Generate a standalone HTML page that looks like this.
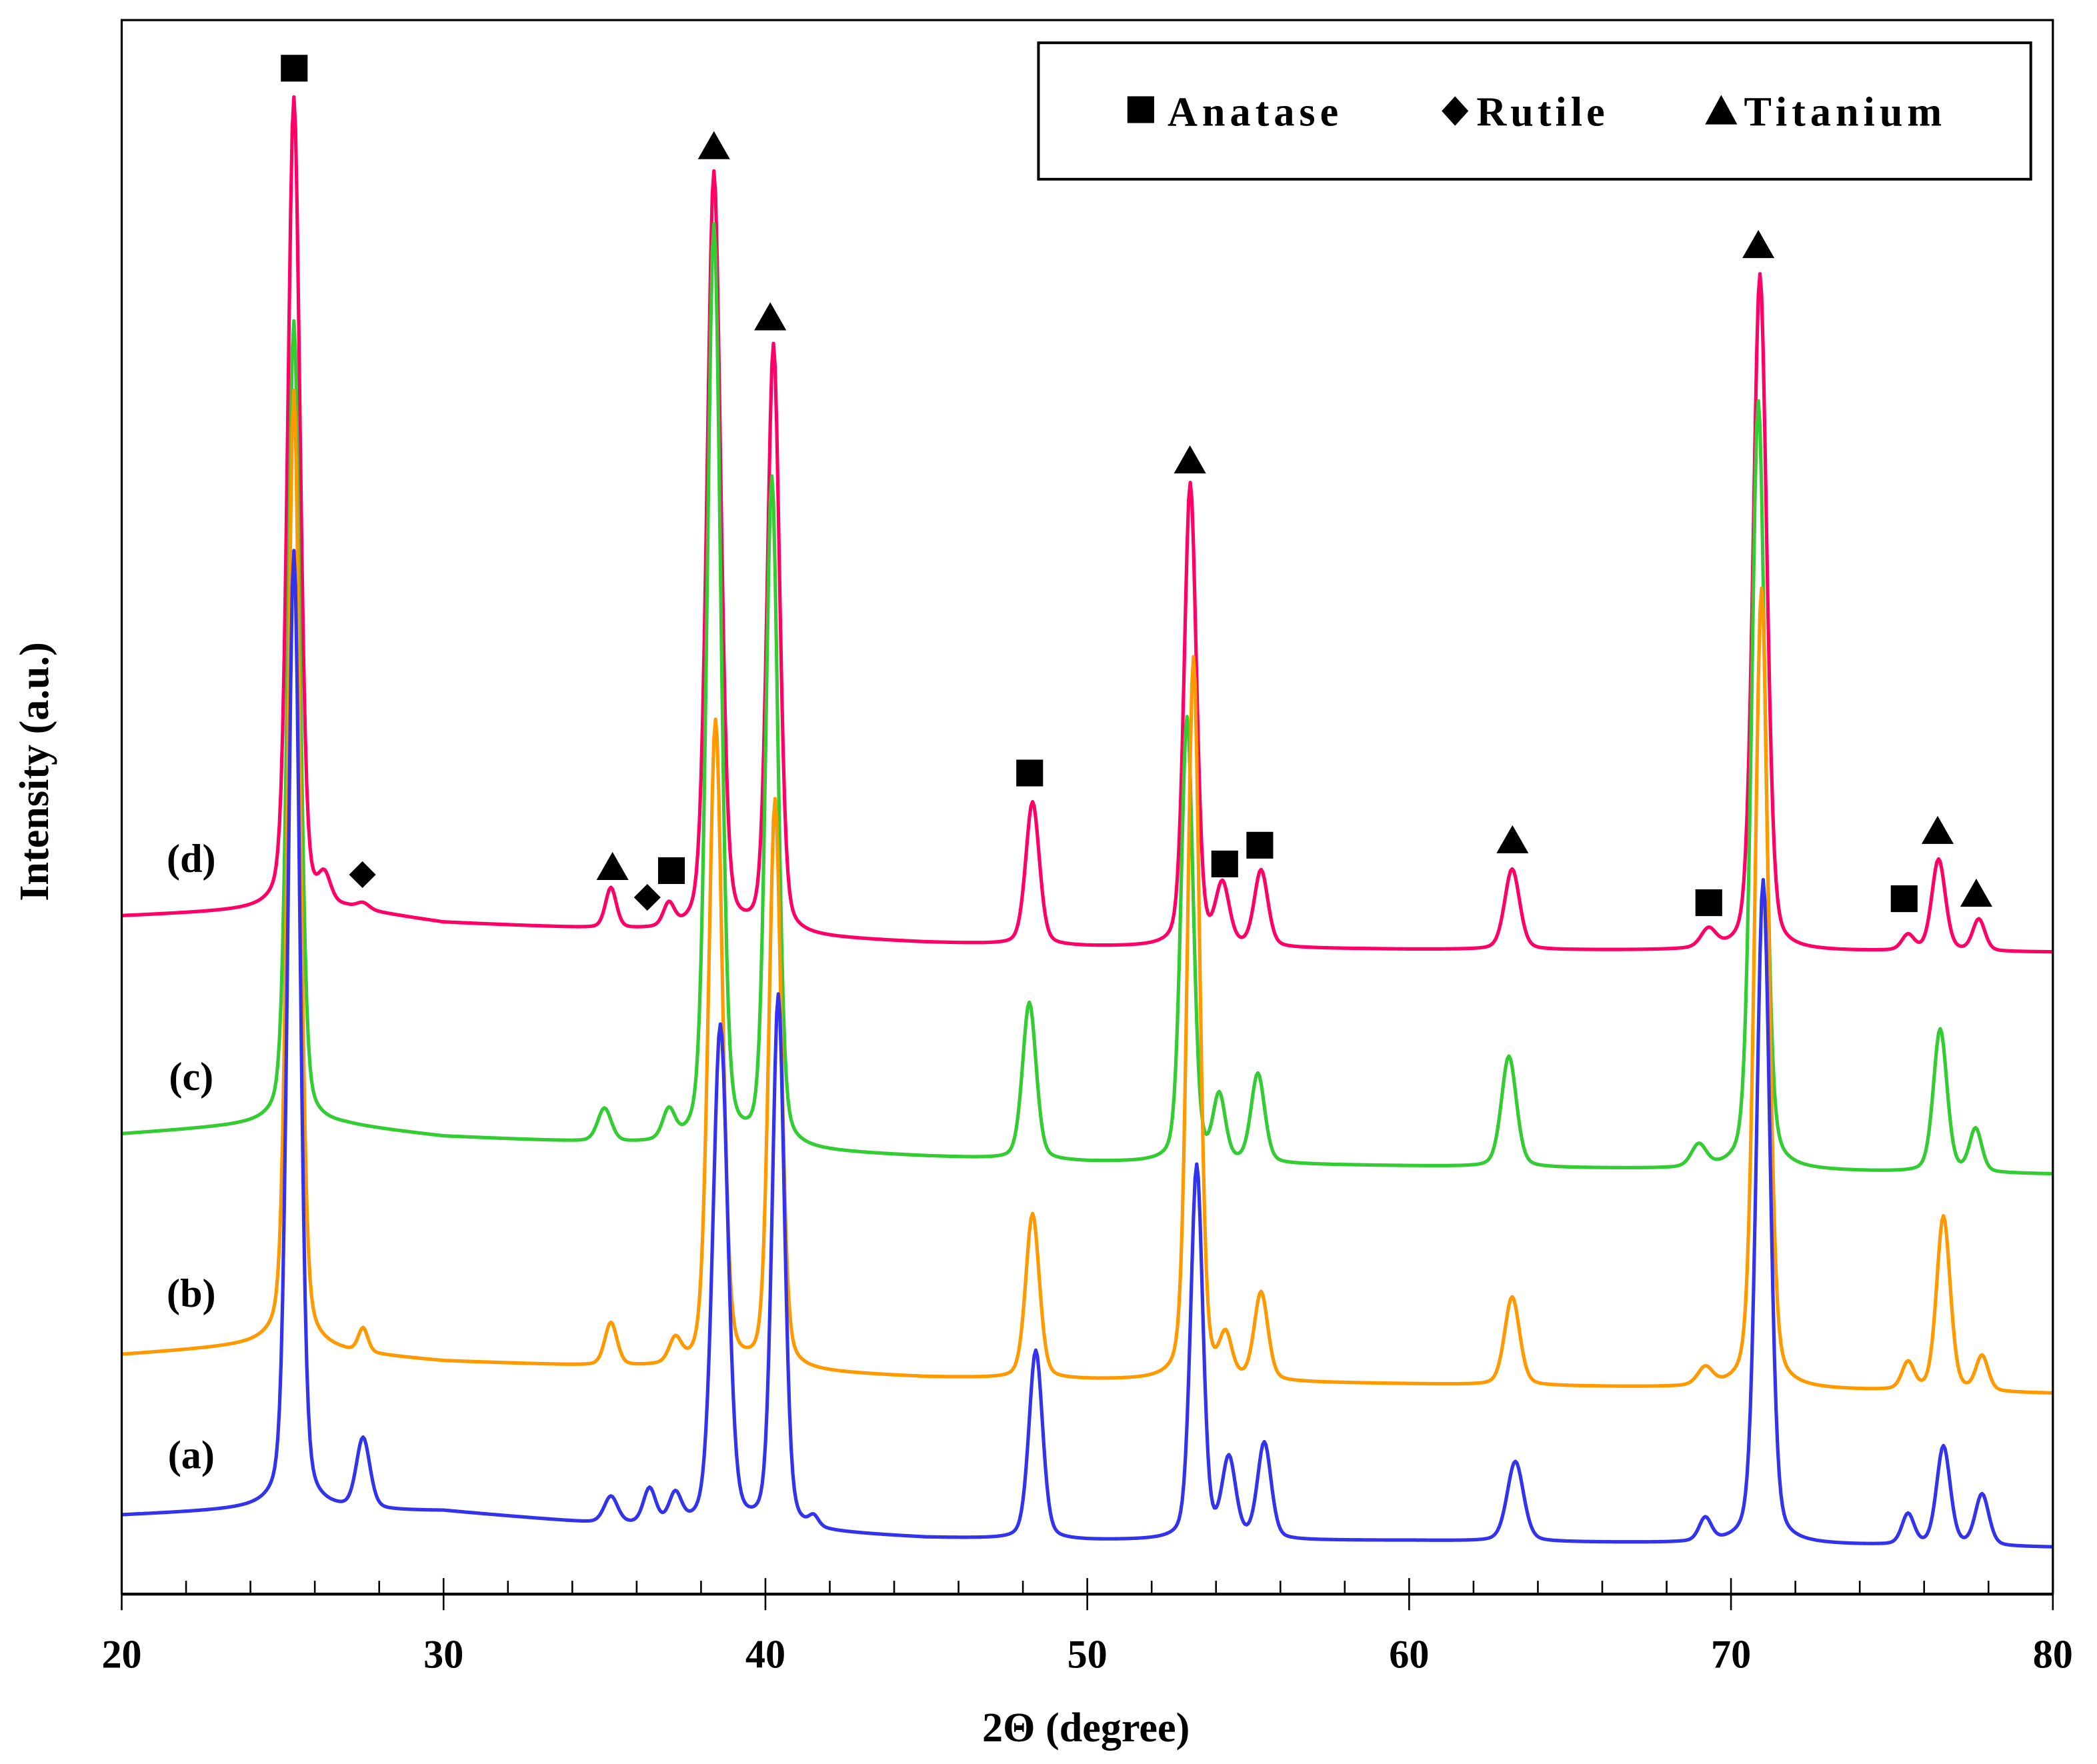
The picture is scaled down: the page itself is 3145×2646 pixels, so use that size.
<!DOCTYPE html>
<html><head><meta charset="utf-8"><style>
html,body{margin:0;padding:0;background:#fff;}
svg{display:block;}
text{font-family:"Liberation Serif",serif;font-weight:bold;fill:#000;}
</style></head><body>
<svg id="chart" width="3145" height="2646" viewBox="0 0 1568 1319" preserveAspectRatio="none">
<g id="series"></g>
<g id="markers"></g>
<g id="axes"></g>
<g>
<rect x="776.5" y="32" width="742" height="102" fill="#fff" stroke="#000" stroke-width="2"/>
<rect x="843" y="72" width="20" height="20" fill="#000"/>
<text x="873" y="94" font-size="31" letter-spacing="3.5">Anatase</text>
<polygon points="1088,72 1098,83 1088,94 1078,83" fill="#000"/>
<text x="1104" y="94" font-size="31" letter-spacing="3">Rutile</text>
<polygon points="1287,71 1299,93 1275,93" fill="#000"/>
<text x="1304" y="94" font-size="31" letter-spacing="3.5">Titanium</text>
</g>
<text x="812" y="1302" font-size="31" text-anchor="middle">2Θ (degree)</text>
<text transform="translate(36,577) rotate(-90)" font-size="31" text-anchor="middle">Intensity (a.u.)</text>
<text x="143" y="1098" font-size="30" text-anchor="middle">(a)</text>
<text x="143" y="977" font-size="30" text-anchor="middle">(b)</text>
<text x="143" y="815" font-size="30" text-anchor="middle">(c)</text>
<text x="143" y="652" font-size="30" text-anchor="middle">(d)</text>
</svg>
<script>
// ---- data (intensity in arbitrary units; 0 = bottom of axis) ----
const xTicks = [20,30,40,50,60,70,80];
const seriesNames = ["a","b","c","d"];
const seriesColors = ["#3333ee","#ff9900","#33cc33","#ff0066"];
// baseline anchors
const baseX = [20,25,27,30,35,40,45,50,60,80];
const baseA = [59,64,62,62,52,48,42,40,40,35];
const baseB = [179,187,180,174,170,167,162,160,157,150];
const baseC = [344,352,350,342,337,332,327,323,320,314];
const baseD = [507,512,512,502,497,492,487,484,482,480];
// peaks: positions, apex intensity, FWHM (deg)
const posA = [25.35,27.5,35.2,36.4,37.2,38.6,40.4,41.5,48.4,53.4,54.4,55.5,63.3,69.2,71.0,75.5,76.6,77.8];
const topA = [780,115,72,77,72,424,446,54,182,320,99,112,99,55,534,59,110,74];
const widA = [0.45,0.5,0.5,0.45,0.45,0.55,0.45,0.35,0.5,0.45,0.5,0.5,0.6,0.45,0.5,0.45,0.5,0.5];
const posB = [25.35,27.5,35.2,37.2,38.45,40.3,48.3,53.3,54.3,55.4,63.2,69.2,70.95,75.5,76.6,77.8];
const topB = [900,197,202,187,652,592,284,700,189,224,222,167,752,172,282,177];
const widB = [0.45,0.35,0.45,0.45,0.5,0.45,0.5,0.45,0.45,0.5,0.55,0.55,0.5,0.45,0.5,0.45];
const posC = [25.35,35.0,37.0,38.4,40.2,48.2,53.1,54.1,55.3,63.1,69.0,70.85,76.5,77.6];
const topC = [952,362,357,1022,832,442,655,370,388,402,334,892,422,347];
const widC = [0.45,0.5,0.45,0.5,0.45,0.5,0.45,0.45,0.5,0.55,0.55,0.5,0.5,0.45];
const posD = [25.35,26.3,27.5,35.2,37.0,38.4,40.25,48.3,53.2,54.2,55.4,63.2,69.3,70.9,75.5,76.45,77.7];
const topD = [1119,532,515,527,512,1062,932,592,830,528,540,542,495,987,492,549,504];
const widD = [0.45,0.45,0.45,0.4,0.4,0.5,0.45,0.5,0.45,0.5,0.5,0.55,0.55,0.5,0.45,0.5,0.45];
// phase markers
const squareX = [25.36,37.08,48.21,54.27,55.36,69.31,75.38];
const squareY = [1141,541,614,546,560,517,520];
const triX = [38.40,40.15,53.19,35.25,63.21,70.85,76.42,77.62];
const triY = [1083,955,848,544,564,1009,571,524];
const diaX = [27.48,36.33];
const diaY = [538,521];

// ---- scales ----
const X0=91, X1=1535, YB=1192, YT=15;
function sx(v){return X0+(v-20)*(X1-X0)/60;}
function sy(v){return YB-v;}
function interp(xs,ys,x){
  if(x<=xs[0])return ys[0];
  for(let i=1;i<xs.length;i++){if(x<=xs[i]){const t=(x-xs[i-1])/(xs[i]-xs[i-1]);return ys[i-1]+t*(ys[i]-ys[i-1]);}}
  return ys[ys.length-1];
}
const NS="http://www.w3.org/2000/svg";
function mk(tag,attrs,parent){const e=document.createElementNS(NS,tag);for(const k in attrs)e.setAttribute(k,attrs[k]);parent.appendChild(e);return e;}

const bases=[baseA,baseB,baseC,baseD], poss=[posA,posB,posC,posD], tops=[topA,topB,topC,topD], wids=[widA,widB,widC,widD];
const sg=document.getElementById('series');
for(let s=3;s>=0;s--){
  const b=bases[s],p=poss[s],t=tops[s],w=wids[s];
  const hts=p.map((x,i)=>t[i]-interp(baseX,b,x));
  let d="";
  for(let k=0;k<=1200;k++){
    const x=20+k*0.05;
    let v=interp(baseX,b,x);
    for(let i=0;i<p.length;i++){
      const z=(x-p[i])/(w[i]/2);
      v+=hts[i]*(0.7*Math.exp(-0.693*z*z)+0.3/(1+z*z));
    }
    d+=(k?"L":"M")+sx(x).toFixed(2)+","+sy(v).toFixed(2);
  }
  const path=mk('path',{d:d,fill:'none',stroke:seriesColors[s],'stroke-width':2.6,'stroke-linejoin':'round'},sg);
  
  
}
// markers
const mg=document.getElementById('markers');
squareX.forEach((x,i)=>{
  const r=mk('rect',{x:sx(x)-10,y:sy(squareY[i])-10,width:20,height:20,fill:'#000'},mg);
  
  
});
triX.forEach((x,i)=>{
  const cx=sx(x),cy=sy(triY[i]);
  const p=mk('polygon',{points:`${cx},${cy-11} ${cx+12},${cy+10} ${cx-12},${cy+10}`,fill:'#000'},mg);
  
  
});
diaX.forEach((x,i)=>{
  const cx=sx(x),cy=sy(diaY[i]);
  const p=mk('polygon',{points:`${cx},${cy-10} ${cx+10},${cy} ${cx},${cy+10} ${cx-10},${cy}`,fill:'#000'},mg);
  
  
});
// axes
const ag=document.getElementById('axes');
const frame=mk('path',{d:`M${X0},${YB}L${X0},${YT}L${X1},${YT}L${X1},${YB}`,fill:'none',stroke:'#000','stroke-width':1.6},ag);


const xa=mk('line',{x1:X0,y1:YB,x2:X1,y2:YB,stroke:'#000','stroke-width':2.2},ag);


for(let v=20;v<=80;v+=2){
  const major=(v%10===0);
  const t=mk('line',{x1:sx(v),x2:sx(v),y1:YB-(major?12:10),y2:YB+(major?12:0),stroke:'#000','stroke-width':1.3},ag);
  
  
}
xTicks.forEach(v=>{
  const t=mk('text',{x:sx(v),y:1247,'font-size':30,'text-anchor':'middle'},ag);
  t.textContent=v;
  
  
});
</script>
</body></html>
